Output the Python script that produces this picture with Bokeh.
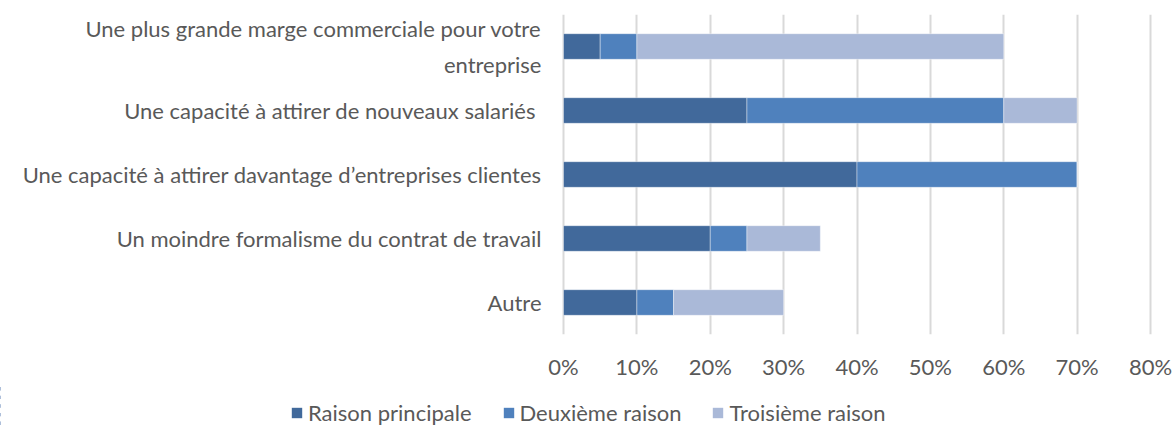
from bokeh.plotting import figure
from bokeh.layouts import column
from bokeh.models import ColumnDataSource, FactorRange, Range1d, FixedTicker, PrintfTickFormatter, Legend, LegendItem
from bokeh.core.properties import value
from bokeh.embed import file_html
from bokeh.resources import INLINE

categories = [
    "Une plus grande marge commerciale pour votre\nentreprise",
    "Une capacité à attirer de nouveaux salariés ",
    "Une capacité à attirer davantage d\u2019entreprises clientes",
    "Un moindre formalisme du contrat de travail",
    "Autre",
]
raison_principale = [5, 25, 40, 20, 10]
deuxieme_raison = [5, 35, 30, 5, 5]
troisieme_raison = [50, 10, 0, 10, 15]
series = ["Raison principale", "Deuxième raison", "Troisième raison"]
colors = ["#41699B", "#4F81BD", "#AAB9D8"]
ticks = [0, 10, 20, 30, 40, 50, 60, 70, 80]

FONT = "Lato"
FS = "22px"
TXT = "#595959"

# layout (pixels)
W, H = 1172, 427
ZERO_PX = 563          # where 0 % sits
MAX_PX = 1150          # where 80 % sits
TOP_H = 384            # height of the chart part
px_per_unit = (MAX_PX - ZERO_PX) / ticks[-1]

source = ColumnDataSource(dict(
    cat=categories,
    r1=raison_principale,
    r2=deuxieme_raison,
    r3=troisieme_raison,
    zero=[0] * len(categories),
))

p = figure(
    width=W, height=TOP_H,
    y_range=FactorRange(*list(reversed(categories))),
    x_range=Range1d(-ZERO_PX / px_per_unit, ticks[-1] + (W - MAX_PX) / px_per_unit),
    output_backend="svg", toolbar_location=None,
    min_border_left=0, min_border_right=0, min_border_top=14, min_border_bottom=TOP_H - 14 - 320,
)
p.outline_line_color = None

p.hbar_stack(["r1", "r2", "r3"], y="cat", height=0.4, color=colors,
             line_color="white", line_width=0.4, source=source)

# category labels, right-aligned left of the 0 % line
p.text(x="zero", y="cat", text="cat", source=source, x_offset=-22,
       text_align="right", text_baseline="middle", text_line_height=1.3,
       text_font=value(FONT), text_font_size=value(FS), text_color=TXT)

p.yaxis.visible = False

p.xaxis.ticker = FixedTicker(ticks=ticks)
p.xaxis.formatter = PrintfTickFormatter(format="%d%%")
p.xaxis.axis_line_color = None
p.xaxis.major_tick_line_color = None
p.xaxis.minor_tick_line_color = None
p.xaxis.major_label_standoff = 12
p.xaxis.major_label_text_font = FONT
p.xaxis.major_label_text_font_size = FS
p.xaxis.major_label_text_color = TXT

p.ygrid.grid_line_color = None
p.xgrid.grid_line_color = "#D9D9D9"
p.xgrid.grid_line_width = 2

# legend strip below the chart
q = figure(
    width=W, height=H - TOP_H,
    y_range=FactorRange(*list(reversed(categories))),
    x_range=Range1d(1000, 1001),
    output_backend="svg", toolbar_location=None,
    min_border_left=0, min_border_right=0, min_border_top=0, min_border_bottom=0,
)
q.outline_line_color = None
q.axis.visible = False
q.grid.visible = False
leg_renderers = q.hbar_stack(["r1", "r2", "r3"], y="cat", height=0.4, color=colors,
                             line_color=None, source=source)

legend = Legend(
    items=[LegendItem(label=s, renderers=[r]) for s, r in zip(series, leg_renderers)],
    orientation="horizontal", location=(290, 1),
    label_text_font=FONT, label_text_font_size=FS, label_text_color=TXT,
    glyph_width=13, glyph_height=13, label_standoff=5, spacing=30,
    border_line_color=None, background_fill_alpha=0, padding=0, margin=0,
)
q.add_layout(legend, "center")

layout = column(p, q, spacing=0)
open("out.html", "w").write(file_html(layout, INLINE))
